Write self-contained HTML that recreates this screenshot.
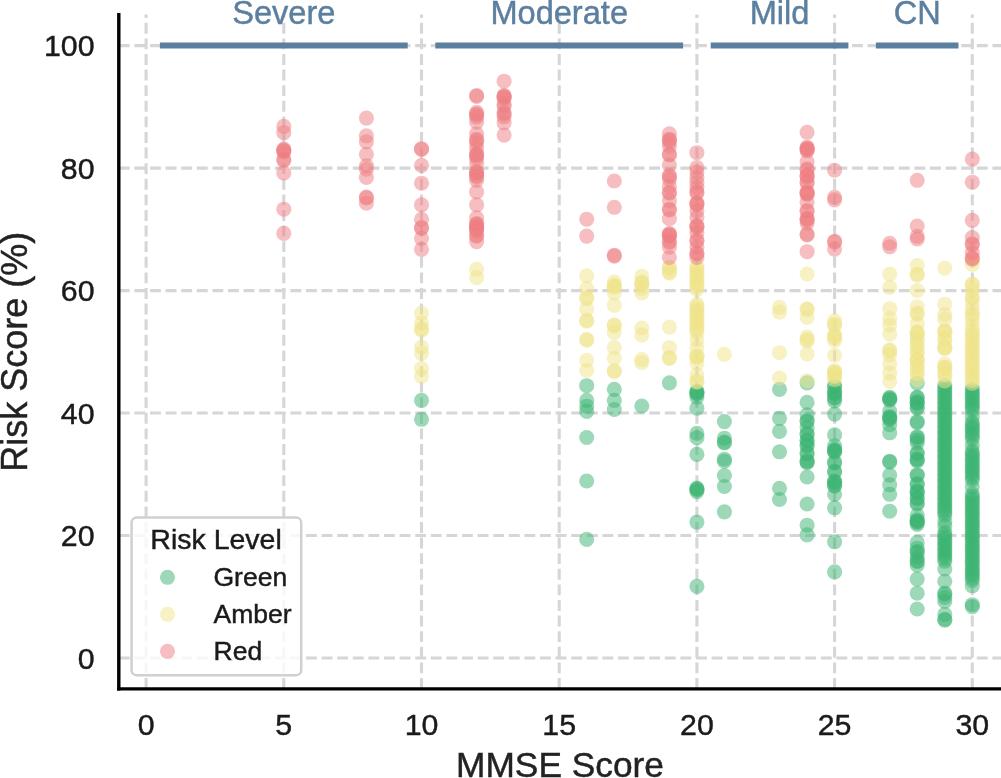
<!DOCTYPE html>
<html><head><meta charset="utf-8"><title>Risk Score vs MMSE Score</title>
<style>
html,body{margin:0;padding:0;background:#fff;}
body{width:1001px;height:778px;overflow:hidden;}
svg{display:block;}
text{font-family:"Liberation Sans",Arial,sans-serif;stroke-width:0.45px;paint-order:stroke;}
.tick,.leg{stroke:#1a1a1a;}.axl{stroke:#222;}.cat{stroke:#5b7f9f;}
.tick{font-size:30.3px;fill:#1a1a1a;}
.cat{font-size:32.6px;fill:#5b7f9f;}
.axl{font-size:36px;fill:#222;}
.leg{font-size:26.5px;fill:#1a1a1a;}
.grid line{stroke:#d6d6d6;stroke-width:3.1;stroke-dasharray:10.9 4.7;}
</style></head><body>
<svg width="1001" height="778" viewBox="0 0 1001 778">
<rect width="1001" height="778" fill="#fff"/>

<g class="grid">
<line x1="146.1" y1="688.9" x2="146.1" y2="14.6"/>
<line x1="283.8" y1="688.9" x2="283.8" y2="14.6"/>
<line x1="421.5" y1="688.9" x2="421.5" y2="14.6"/>
<line x1="559.2" y1="688.9" x2="559.2" y2="14.6"/>
<line x1="696.9" y1="688.9" x2="696.9" y2="14.6"/>
<line x1="834.6" y1="688.9" x2="834.6" y2="14.6"/>
<line x1="972.3" y1="688.9" x2="972.3" y2="14.6"/>
<line x1="118.8" y1="658.0" x2="1001" y2="658.0"/>
<line x1="118.8" y1="535.5" x2="1001" y2="535.5"/>
<line x1="118.8" y1="413.0" x2="1001" y2="413.0"/>
<line x1="118.8" y1="290.6" x2="1001" y2="290.6"/>
<line x1="118.8" y1="168.1" x2="1001" y2="168.1"/>
<line x1="118.8" y1="45.6" x2="1001" y2="45.6"/>
</g>
<line x1="159.9" y1="45.5" x2="407.7" y2="45.5" stroke="#5b7f9f" stroke-width="6"/>
<text class="cat" x="283.8" y="23.5" text-anchor="middle">Severe</text>
<line x1="435.3" y1="45.5" x2="683.1" y2="45.5" stroke="#5b7f9f" stroke-width="6"/>
<text class="cat" x="559.2" y="23.5" text-anchor="middle">Moderate</text>
<line x1="710.7" y1="45.5" x2="848.4" y2="45.5" stroke="#5b7f9f" stroke-width="6"/>
<text class="cat" x="779.5" y="23.5" text-anchor="middle">Mild</text>
<line x1="875.9" y1="45.5" x2="958.5" y2="45.5" stroke="#5b7f9f" stroke-width="6"/>
<text class="cat" x="917.2" y="23.5" text-anchor="middle">CN</text>
<g fill="#3cb371" fill-opacity="0.5">
<circle cx="421.5" cy="400.3" r="7.55"/>
<circle cx="421.5" cy="419.3" r="7.55"/>
<circle cx="586.7" cy="385.7" r="7.55"/>
<circle cx="586.7" cy="400.4" r="7.55"/>
<circle cx="586.7" cy="406.2" r="7.55"/>
<circle cx="586.7" cy="411.4" r="7.55"/>
<circle cx="586.7" cy="437.5" r="7.55"/>
<circle cx="586.7" cy="481.0" r="7.55"/>
<circle cx="586.7" cy="539.4" r="7.55"/>
<circle cx="614.3" cy="389.4" r="7.55"/>
<circle cx="614.3" cy="400.4" r="7.55"/>
<circle cx="614.3" cy="409.5" r="7.55"/>
<circle cx="641.8" cy="406.0" r="7.55"/>
<circle cx="669.4" cy="382.9" r="7.55"/>
<circle cx="696.9" cy="391.2" r="7.55"/>
<circle cx="696.9" cy="392.2" r="7.55"/>
<circle cx="696.9" cy="393.1" r="7.55"/>
<circle cx="696.9" cy="394.0" r="7.55"/>
<circle cx="696.9" cy="397.1" r="7.55"/>
<circle cx="696.9" cy="408.2" r="7.55"/>
<circle cx="696.9" cy="433.4" r="7.55"/>
<circle cx="696.9" cy="437.7" r="7.55"/>
<circle cx="696.9" cy="454.4" r="7.55"/>
<circle cx="696.9" cy="488.1" r="7.55"/>
<circle cx="696.9" cy="489.0" r="7.55"/>
<circle cx="696.9" cy="489.9" r="7.55"/>
<circle cx="696.9" cy="491.6" r="7.55"/>
<circle cx="696.9" cy="522.1" r="7.55"/>
<circle cx="696.9" cy="586.4" r="7.55"/>
<circle cx="724.4" cy="421.6" r="7.55"/>
<circle cx="724.4" cy="438.2" r="7.55"/>
<circle cx="724.4" cy="442.1" r="7.55"/>
<circle cx="724.4" cy="442.9" r="7.55"/>
<circle cx="724.4" cy="459.2" r="7.55"/>
<circle cx="724.4" cy="461.2" r="7.55"/>
<circle cx="724.4" cy="475.5" r="7.55"/>
<circle cx="724.4" cy="486.5" r="7.55"/>
<circle cx="724.4" cy="511.9" r="7.55"/>
<circle cx="779.5" cy="389.4" r="7.55"/>
<circle cx="779.5" cy="418.4" r="7.55"/>
<circle cx="779.5" cy="431.4" r="7.55"/>
<circle cx="779.5" cy="451.8" r="7.55"/>
<circle cx="779.5" cy="488.4" r="7.55"/>
<circle cx="779.5" cy="499.5" r="7.55"/>
<circle cx="807.1" cy="382.9" r="7.55"/>
<circle cx="807.1" cy="402.4" r="7.55"/>
<circle cx="807.1" cy="414.7" r="7.55"/>
<circle cx="807.1" cy="420.8" r="7.55"/>
<circle cx="807.1" cy="421.6" r="7.55"/>
<circle cx="807.1" cy="427.7" r="7.55"/>
<circle cx="807.1" cy="433.8" r="7.55"/>
<circle cx="807.1" cy="434.6" r="7.55"/>
<circle cx="807.1" cy="440.2" r="7.55"/>
<circle cx="807.1" cy="441.1" r="7.55"/>
<circle cx="807.1" cy="445.1" r="7.55"/>
<circle cx="807.1" cy="445.9" r="7.55"/>
<circle cx="807.1" cy="453.1" r="7.55"/>
<circle cx="807.1" cy="453.9" r="7.55"/>
<circle cx="807.1" cy="460.9" r="7.55"/>
<circle cx="807.1" cy="461.8" r="7.55"/>
<circle cx="807.1" cy="462.7" r="7.55"/>
<circle cx="807.1" cy="477.0" r="7.55"/>
<circle cx="807.1" cy="504.0" r="7.55"/>
<circle cx="807.1" cy="525.2" r="7.55"/>
<circle cx="807.1" cy="534.9" r="7.55"/>
<circle cx="834.6" cy="385.8" r="7.55"/>
<circle cx="834.6" cy="386.6" r="7.55"/>
<circle cx="834.6" cy="391.8" r="7.55"/>
<circle cx="834.6" cy="392.7" r="7.55"/>
<circle cx="834.6" cy="393.6" r="7.55"/>
<circle cx="834.6" cy="397.4" r="7.55"/>
<circle cx="834.6" cy="398.3" r="7.55"/>
<circle cx="834.6" cy="401.1" r="7.55"/>
<circle cx="834.6" cy="414.1" r="7.55"/>
<circle cx="834.6" cy="434.9" r="7.55"/>
<circle cx="834.6" cy="445.9" r="7.55"/>
<circle cx="834.6" cy="449.5" r="7.55"/>
<circle cx="834.6" cy="450.4" r="7.55"/>
<circle cx="834.6" cy="451.3" r="7.55"/>
<circle cx="834.6" cy="452.2" r="7.55"/>
<circle cx="834.6" cy="462.1" r="7.55"/>
<circle cx="834.6" cy="462.9" r="7.55"/>
<circle cx="834.6" cy="471.2" r="7.55"/>
<circle cx="834.6" cy="472.1" r="7.55"/>
<circle cx="834.6" cy="481.0" r="7.55"/>
<circle cx="834.6" cy="481.9" r="7.55"/>
<circle cx="834.6" cy="482.8" r="7.55"/>
<circle cx="834.6" cy="485.4" r="7.55"/>
<circle cx="834.6" cy="486.2" r="7.55"/>
<circle cx="834.6" cy="494.3" r="7.55"/>
<circle cx="834.6" cy="507.8" r="7.55"/>
<circle cx="834.6" cy="541.8" r="7.55"/>
<circle cx="834.6" cy="571.9" r="7.55"/>
<circle cx="889.7" cy="397.4" r="7.55"/>
<circle cx="889.7" cy="398.4" r="7.55"/>
<circle cx="889.7" cy="399.2" r="7.55"/>
<circle cx="889.7" cy="400.2" r="7.55"/>
<circle cx="889.7" cy="411.1" r="7.55"/>
<circle cx="889.7" cy="416.6" r="7.55"/>
<circle cx="889.7" cy="417.6" r="7.55"/>
<circle cx="889.7" cy="418.4" r="7.55"/>
<circle cx="889.7" cy="419.4" r="7.55"/>
<circle cx="889.7" cy="424.7" r="7.55"/>
<circle cx="889.7" cy="432.8" r="7.55"/>
<circle cx="889.7" cy="461.2" r="7.55"/>
<circle cx="889.7" cy="462.1" r="7.55"/>
<circle cx="889.7" cy="475.1" r="7.55"/>
<circle cx="889.7" cy="484.8" r="7.55"/>
<circle cx="889.7" cy="494.3" r="7.55"/>
<circle cx="889.7" cy="511.2" r="7.55"/>
<circle cx="917.2" cy="383.2" r="7.55"/>
<circle cx="917.2" cy="397.1" r="7.55"/>
<circle cx="917.2" cy="397.9" r="7.55"/>
<circle cx="917.2" cy="401.8" r="7.55"/>
<circle cx="917.2" cy="402.7" r="7.55"/>
<circle cx="917.2" cy="403.6" r="7.55"/>
<circle cx="917.2" cy="407.4" r="7.55"/>
<circle cx="917.2" cy="408.3" r="7.55"/>
<circle cx="917.2" cy="421.7" r="7.55"/>
<circle cx="917.2" cy="422.6" r="7.55"/>
<circle cx="917.2" cy="436.7" r="7.55"/>
<circle cx="917.2" cy="437.6" r="7.55"/>
<circle cx="917.2" cy="442.9" r="7.55"/>
<circle cx="917.2" cy="440.0" r="7.55"/>
<circle cx="917.2" cy="452.8" r="7.55"/>
<circle cx="917.2" cy="453.6" r="7.55"/>
<circle cx="917.2" cy="459.1" r="7.55"/>
<circle cx="917.2" cy="460.0" r="7.55"/>
<circle cx="917.2" cy="460.9" r="7.55"/>
<circle cx="917.2" cy="474.7" r="7.55"/>
<circle cx="917.2" cy="475.6" r="7.55"/>
<circle cx="917.2" cy="483.8" r="7.55"/>
<circle cx="917.2" cy="484.6" r="7.55"/>
<circle cx="917.2" cy="491.0" r="7.55"/>
<circle cx="917.2" cy="491.9" r="7.55"/>
<circle cx="917.2" cy="492.8" r="7.55"/>
<circle cx="917.2" cy="497.9" r="7.55"/>
<circle cx="917.2" cy="498.8" r="7.55"/>
<circle cx="917.2" cy="503.2" r="7.55"/>
<circle cx="917.2" cy="504.1" r="7.55"/>
<circle cx="917.2" cy="515.3" r="7.55"/>
<circle cx="917.2" cy="519.9" r="7.55"/>
<circle cx="917.2" cy="520.8" r="7.55"/>
<circle cx="917.2" cy="521.7" r="7.55"/>
<circle cx="917.2" cy="522.6" r="7.55"/>
<circle cx="917.2" cy="524.4" r="7.55"/>
<circle cx="917.2" cy="542.4" r="7.55"/>
<circle cx="917.2" cy="548.2" r="7.55"/>
<circle cx="917.2" cy="551.6" r="7.55"/>
<circle cx="917.2" cy="552.6" r="7.55"/>
<circle cx="917.2" cy="557.3" r="7.55"/>
<circle cx="917.2" cy="560.8" r="7.55"/>
<circle cx="917.2" cy="561.7" r="7.55"/>
<circle cx="917.2" cy="565.1" r="7.55"/>
<circle cx="917.2" cy="579.1" r="7.55"/>
<circle cx="917.2" cy="593.2" r="7.55"/>
<circle cx="917.2" cy="609.0" r="7.55"/>
<circle cx="944.8" cy="385.5" r="7.55"/>
<circle cx="944.8" cy="387.9" r="7.55"/>
<circle cx="944.8" cy="390.3" r="7.55"/>
<circle cx="944.8" cy="392.7" r="7.55"/>
<circle cx="944.8" cy="395.1" r="7.55"/>
<circle cx="944.8" cy="397.5" r="7.55"/>
<circle cx="944.8" cy="399.9" r="7.55"/>
<circle cx="944.8" cy="402.3" r="7.55"/>
<circle cx="944.8" cy="404.7" r="7.55"/>
<circle cx="944.8" cy="407.1" r="7.55"/>
<circle cx="944.8" cy="409.5" r="7.55"/>
<circle cx="944.8" cy="411.9" r="7.55"/>
<circle cx="944.8" cy="414.3" r="7.55"/>
<circle cx="944.8" cy="416.7" r="7.55"/>
<circle cx="944.8" cy="419.1" r="7.55"/>
<circle cx="944.8" cy="421.5" r="7.55"/>
<circle cx="944.8" cy="423.9" r="7.55"/>
<circle cx="944.8" cy="426.3" r="7.55"/>
<circle cx="944.8" cy="428.7" r="7.55"/>
<circle cx="944.8" cy="431.1" r="7.55"/>
<circle cx="944.8" cy="433.5" r="7.55"/>
<circle cx="944.8" cy="435.9" r="7.55"/>
<circle cx="944.8" cy="438.3" r="7.55"/>
<circle cx="944.8" cy="440.7" r="7.55"/>
<circle cx="944.8" cy="443.1" r="7.55"/>
<circle cx="944.8" cy="445.5" r="7.55"/>
<circle cx="944.8" cy="447.9" r="7.55"/>
<circle cx="944.8" cy="450.3" r="7.55"/>
<circle cx="944.8" cy="452.7" r="7.55"/>
<circle cx="944.8" cy="455.1" r="7.55"/>
<circle cx="944.8" cy="457.5" r="7.55"/>
<circle cx="944.8" cy="459.9" r="7.55"/>
<circle cx="944.8" cy="462.3" r="7.55"/>
<circle cx="944.8" cy="464.7" r="7.55"/>
<circle cx="944.8" cy="467.1" r="7.55"/>
<circle cx="944.8" cy="469.5" r="7.55"/>
<circle cx="944.8" cy="471.9" r="7.55"/>
<circle cx="944.8" cy="474.3" r="7.55"/>
<circle cx="944.8" cy="476.7" r="7.55"/>
<circle cx="944.8" cy="479.1" r="7.55"/>
<circle cx="944.8" cy="481.5" r="7.55"/>
<circle cx="944.8" cy="483.9" r="7.55"/>
<circle cx="944.8" cy="486.3" r="7.55"/>
<circle cx="944.8" cy="488.7" r="7.55"/>
<circle cx="944.8" cy="491.1" r="7.55"/>
<circle cx="944.8" cy="493.5" r="7.55"/>
<circle cx="944.8" cy="495.9" r="7.55"/>
<circle cx="944.8" cy="498.3" r="7.55"/>
<circle cx="944.8" cy="500.7" r="7.55"/>
<circle cx="944.8" cy="503.1" r="7.55"/>
<circle cx="944.8" cy="505.5" r="7.55"/>
<circle cx="944.8" cy="507.9" r="7.55"/>
<circle cx="944.8" cy="510.3" r="7.55"/>
<circle cx="944.8" cy="512.7" r="7.55"/>
<circle cx="944.8" cy="515.1" r="7.55"/>
<circle cx="944.8" cy="521.5" r="7.55"/>
<circle cx="944.8" cy="526.0" r="7.55"/>
<circle cx="944.8" cy="532.5" r="7.55"/>
<circle cx="944.8" cy="534.9" r="7.55"/>
<circle cx="944.8" cy="537.3" r="7.55"/>
<circle cx="944.8" cy="539.7" r="7.55"/>
<circle cx="944.8" cy="542.1" r="7.55"/>
<circle cx="944.8" cy="544.5" r="7.55"/>
<circle cx="944.8" cy="546.9" r="7.55"/>
<circle cx="944.8" cy="549.3" r="7.55"/>
<circle cx="944.8" cy="551.7" r="7.55"/>
<circle cx="944.8" cy="554.1" r="7.55"/>
<circle cx="944.8" cy="556.5" r="7.55"/>
<circle cx="944.8" cy="558.9" r="7.55"/>
<circle cx="944.8" cy="561.3" r="7.55"/>
<circle cx="944.8" cy="569.0" r="7.55"/>
<circle cx="944.8" cy="581.3" r="7.55"/>
<circle cx="944.8" cy="593.1" r="7.55"/>
<circle cx="944.8" cy="594.1" r="7.55"/>
<circle cx="944.8" cy="597.5" r="7.55"/>
<circle cx="944.8" cy="601.4" r="7.55"/>
<circle cx="944.8" cy="614.4" r="7.55"/>
<circle cx="944.8" cy="619.3" r="7.55"/>
<circle cx="944.8" cy="620.2" r="7.55"/>
<circle cx="972.3" cy="388.5" r="7.55"/>
<circle cx="972.3" cy="390.9" r="7.55"/>
<circle cx="972.3" cy="393.3" r="7.55"/>
<circle cx="972.3" cy="395.7" r="7.55"/>
<circle cx="972.3" cy="398.1" r="7.55"/>
<circle cx="972.3" cy="400.5" r="7.55"/>
<circle cx="972.3" cy="402.9" r="7.55"/>
<circle cx="972.3" cy="405.3" r="7.55"/>
<circle cx="972.3" cy="407.7" r="7.55"/>
<circle cx="972.3" cy="410.1" r="7.55"/>
<circle cx="972.3" cy="416.5" r="7.55"/>
<circle cx="972.3" cy="422.0" r="7.55"/>
<circle cx="972.3" cy="424.4" r="7.55"/>
<circle cx="972.3" cy="426.8" r="7.55"/>
<circle cx="972.3" cy="429.2" r="7.55"/>
<circle cx="972.3" cy="431.6" r="7.55"/>
<circle cx="972.3" cy="434.0" r="7.55"/>
<circle cx="972.3" cy="436.4" r="7.55"/>
<circle cx="972.3" cy="438.8" r="7.55"/>
<circle cx="972.3" cy="445.5" r="7.55"/>
<circle cx="972.3" cy="451.0" r="7.55"/>
<circle cx="972.3" cy="453.4" r="7.55"/>
<circle cx="972.3" cy="455.8" r="7.55"/>
<circle cx="972.3" cy="458.2" r="7.55"/>
<circle cx="972.3" cy="460.6" r="7.55"/>
<circle cx="972.3" cy="463.0" r="7.55"/>
<circle cx="972.3" cy="465.4" r="7.55"/>
<circle cx="972.3" cy="467.8" r="7.55"/>
<circle cx="972.3" cy="470.2" r="7.55"/>
<circle cx="972.3" cy="472.6" r="7.55"/>
<circle cx="972.3" cy="475.0" r="7.55"/>
<circle cx="972.3" cy="477.4" r="7.55"/>
<circle cx="972.3" cy="479.8" r="7.55"/>
<circle cx="972.3" cy="486.8" r="7.55"/>
<circle cx="972.3" cy="494.0" r="7.55"/>
<circle cx="972.3" cy="496.4" r="7.55"/>
<circle cx="972.3" cy="498.8" r="7.55"/>
<circle cx="972.3" cy="501.2" r="7.55"/>
<circle cx="972.3" cy="503.6" r="7.55"/>
<circle cx="972.3" cy="506.0" r="7.55"/>
<circle cx="972.3" cy="508.4" r="7.55"/>
<circle cx="972.3" cy="510.8" r="7.55"/>
<circle cx="972.3" cy="513.2" r="7.55"/>
<circle cx="972.3" cy="515.6" r="7.55"/>
<circle cx="972.3" cy="518.0" r="7.55"/>
<circle cx="972.3" cy="520.4" r="7.55"/>
<circle cx="972.3" cy="522.8" r="7.55"/>
<circle cx="972.3" cy="525.2" r="7.55"/>
<circle cx="972.3" cy="527.6" r="7.55"/>
<circle cx="972.3" cy="530.0" r="7.55"/>
<circle cx="972.3" cy="532.4" r="7.55"/>
<circle cx="972.3" cy="534.8" r="7.55"/>
<circle cx="972.3" cy="537.2" r="7.55"/>
<circle cx="972.3" cy="539.6" r="7.55"/>
<circle cx="972.3" cy="542.0" r="7.55"/>
<circle cx="972.3" cy="544.4" r="7.55"/>
<circle cx="972.3" cy="546.8" r="7.55"/>
<circle cx="972.3" cy="549.2" r="7.55"/>
<circle cx="972.3" cy="551.6" r="7.55"/>
<circle cx="972.3" cy="554.0" r="7.55"/>
<circle cx="972.3" cy="556.4" r="7.55"/>
<circle cx="972.3" cy="558.8" r="7.55"/>
<circle cx="972.3" cy="561.2" r="7.55"/>
<circle cx="972.3" cy="563.6" r="7.55"/>
<circle cx="972.3" cy="566.0" r="7.55"/>
<circle cx="972.3" cy="568.4" r="7.55"/>
<circle cx="972.3" cy="570.8" r="7.55"/>
<circle cx="972.3" cy="573.2" r="7.55"/>
<circle cx="972.3" cy="575.6" r="7.55"/>
<circle cx="972.3" cy="578.0" r="7.55"/>
<circle cx="972.3" cy="580.4" r="7.55"/>
<circle cx="972.3" cy="585.8" r="7.55"/>
<circle cx="972.3" cy="604.7" r="7.55"/>
<circle cx="972.3" cy="606.6" r="7.55"/>
</g>
<g fill="#f0e48a" fill-opacity="0.5">
<circle cx="421.5" cy="313.4" r="7.55"/>
<circle cx="421.5" cy="323.1" r="7.55"/>
<circle cx="421.5" cy="329.2" r="7.55"/>
<circle cx="421.5" cy="330.1" r="7.55"/>
<circle cx="421.5" cy="347.1" r="7.55"/>
<circle cx="421.5" cy="353.4" r="7.55"/>
<circle cx="421.5" cy="368.6" r="7.55"/>
<circle cx="421.5" cy="376.4" r="7.55"/>
<circle cx="476.6" cy="269.3" r="7.55"/>
<circle cx="476.6" cy="277.6" r="7.55"/>
<circle cx="586.7" cy="275.9" r="7.55"/>
<circle cx="586.7" cy="288.5" r="7.55"/>
<circle cx="586.7" cy="297.7" r="7.55"/>
<circle cx="586.7" cy="298.6" r="7.55"/>
<circle cx="586.7" cy="309.2" r="7.55"/>
<circle cx="586.7" cy="320.4" r="7.55"/>
<circle cx="586.7" cy="321.2" r="7.55"/>
<circle cx="586.7" cy="339.4" r="7.55"/>
<circle cx="586.7" cy="340.2" r="7.55"/>
<circle cx="586.7" cy="360.3" r="7.55"/>
<circle cx="586.7" cy="370.5" r="7.55"/>
<circle cx="614.3" cy="282.0" r="7.55"/>
<circle cx="614.3" cy="285.4" r="7.55"/>
<circle cx="614.3" cy="286.2" r="7.55"/>
<circle cx="614.3" cy="287.5" r="7.55"/>
<circle cx="614.3" cy="292.9" r="7.55"/>
<circle cx="614.3" cy="305.3" r="7.55"/>
<circle cx="614.3" cy="324.9" r="7.55"/>
<circle cx="614.3" cy="325.8" r="7.55"/>
<circle cx="614.3" cy="332.5" r="7.55"/>
<circle cx="614.3" cy="347.3" r="7.55"/>
<circle cx="614.3" cy="358.2" r="7.55"/>
<circle cx="614.3" cy="370.8" r="7.55"/>
<circle cx="614.3" cy="371.6" r="7.55"/>
<circle cx="641.8" cy="276.4" r="7.55"/>
<circle cx="641.8" cy="282.2" r="7.55"/>
<circle cx="641.8" cy="283.1" r="7.55"/>
<circle cx="641.8" cy="284.0" r="7.55"/>
<circle cx="641.8" cy="288.7" r="7.55"/>
<circle cx="641.8" cy="292.9" r="7.55"/>
<circle cx="641.8" cy="328.0" r="7.55"/>
<circle cx="641.8" cy="335.1" r="7.55"/>
<circle cx="641.8" cy="359.6" r="7.55"/>
<circle cx="641.8" cy="362.7" r="7.55"/>
<circle cx="669.4" cy="267.2" r="7.55"/>
<circle cx="669.4" cy="268.1" r="7.55"/>
<circle cx="669.4" cy="272.2" r="7.55"/>
<circle cx="669.4" cy="273.1" r="7.55"/>
<circle cx="669.4" cy="327.1" r="7.55"/>
<circle cx="669.4" cy="347.6" r="7.55"/>
<circle cx="669.4" cy="357.6" r="7.55"/>
<circle cx="669.4" cy="358.4" r="7.55"/>
<circle cx="696.9" cy="266.0" r="7.55"/>
<circle cx="696.9" cy="268.6" r="7.55"/>
<circle cx="696.9" cy="271.2" r="7.55"/>
<circle cx="696.9" cy="273.8" r="7.55"/>
<circle cx="696.9" cy="276.4" r="7.55"/>
<circle cx="696.9" cy="279.0" r="7.55"/>
<circle cx="696.9" cy="281.6" r="7.55"/>
<circle cx="696.9" cy="284.2" r="7.55"/>
<circle cx="696.9" cy="286.8" r="7.55"/>
<circle cx="696.9" cy="289.4" r="7.55"/>
<circle cx="696.9" cy="304.0" r="7.55"/>
<circle cx="696.9" cy="306.6" r="7.55"/>
<circle cx="696.9" cy="309.2" r="7.55"/>
<circle cx="696.9" cy="311.8" r="7.55"/>
<circle cx="696.9" cy="314.4" r="7.55"/>
<circle cx="696.9" cy="317.0" r="7.55"/>
<circle cx="696.9" cy="319.6" r="7.55"/>
<circle cx="696.9" cy="322.2" r="7.55"/>
<circle cx="696.9" cy="324.8" r="7.55"/>
<circle cx="696.9" cy="327.4" r="7.55"/>
<circle cx="696.9" cy="330.0" r="7.55"/>
<circle cx="696.9" cy="332.6" r="7.55"/>
<circle cx="696.9" cy="340.0" r="7.55"/>
<circle cx="696.9" cy="348.0" r="7.55"/>
<circle cx="696.9" cy="355.9" r="7.55"/>
<circle cx="696.9" cy="356.8" r="7.55"/>
<circle cx="696.9" cy="357.7" r="7.55"/>
<circle cx="696.9" cy="363.4" r="7.55"/>
<circle cx="696.9" cy="375.1" r="7.55"/>
<circle cx="696.9" cy="381.2" r="7.55"/>
<circle cx="696.9" cy="382.1" r="7.55"/>
<circle cx="724.4" cy="354.4" r="7.55"/>
<circle cx="779.5" cy="307.3" r="7.55"/>
<circle cx="779.5" cy="312.1" r="7.55"/>
<circle cx="779.5" cy="352.7" r="7.55"/>
<circle cx="779.5" cy="378.0" r="7.55"/>
<circle cx="807.1" cy="274.0" r="7.55"/>
<circle cx="807.1" cy="308.8" r="7.55"/>
<circle cx="807.1" cy="309.6" r="7.55"/>
<circle cx="807.1" cy="317.4" r="7.55"/>
<circle cx="807.1" cy="337.1" r="7.55"/>
<circle cx="807.1" cy="339.9" r="7.55"/>
<circle cx="807.1" cy="340.8" r="7.55"/>
<circle cx="807.1" cy="354.0" r="7.55"/>
<circle cx="807.1" cy="380.7" r="7.55"/>
<circle cx="834.6" cy="320.9" r="7.55"/>
<circle cx="834.6" cy="324.4" r="7.55"/>
<circle cx="834.6" cy="325.2" r="7.55"/>
<circle cx="834.6" cy="334.5" r="7.55"/>
<circle cx="834.6" cy="336.7" r="7.55"/>
<circle cx="834.6" cy="337.6" r="7.55"/>
<circle cx="834.6" cy="340.4" r="7.55"/>
<circle cx="834.6" cy="355.3" r="7.55"/>
<circle cx="834.6" cy="370.9" r="7.55"/>
<circle cx="834.6" cy="371.8" r="7.55"/>
<circle cx="834.6" cy="372.7" r="7.55"/>
<circle cx="834.6" cy="375.4" r="7.55"/>
<circle cx="834.6" cy="376.3" r="7.55"/>
<circle cx="834.6" cy="379.7" r="7.55"/>
<circle cx="889.7" cy="274.1" r="7.55"/>
<circle cx="889.7" cy="287.5" r="7.55"/>
<circle cx="889.7" cy="308.7" r="7.55"/>
<circle cx="889.7" cy="318.6" r="7.55"/>
<circle cx="889.7" cy="325.1" r="7.55"/>
<circle cx="889.7" cy="334.2" r="7.55"/>
<circle cx="889.7" cy="349.9" r="7.55"/>
<circle cx="889.7" cy="350.8" r="7.55"/>
<circle cx="889.7" cy="354.9" r="7.55"/>
<circle cx="889.7" cy="364.0" r="7.55"/>
<circle cx="889.7" cy="373.1" r="7.55"/>
<circle cx="889.7" cy="381.4" r="7.55"/>
<circle cx="917.2" cy="265.6" r="7.55"/>
<circle cx="917.2" cy="274.2" r="7.55"/>
<circle cx="917.2" cy="275.1" r="7.55"/>
<circle cx="917.2" cy="290.5" r="7.55"/>
<circle cx="917.2" cy="306.8" r="7.55"/>
<circle cx="917.2" cy="313.4" r="7.55"/>
<circle cx="917.2" cy="314.2" r="7.55"/>
<circle cx="917.2" cy="323.8" r="7.55"/>
<circle cx="917.2" cy="332.0" r="7.55"/>
<circle cx="917.2" cy="332.9" r="7.55"/>
<circle cx="917.2" cy="333.8" r="7.55"/>
<circle cx="917.2" cy="338.9" r="7.55"/>
<circle cx="917.2" cy="339.8" r="7.55"/>
<circle cx="917.2" cy="345.4" r="7.55"/>
<circle cx="917.2" cy="346.2" r="7.55"/>
<circle cx="917.2" cy="351.9" r="7.55"/>
<circle cx="917.2" cy="352.8" r="7.55"/>
<circle cx="917.2" cy="359.2" r="7.55"/>
<circle cx="917.2" cy="360.1" r="7.55"/>
<circle cx="917.2" cy="361.0" r="7.55"/>
<circle cx="917.2" cy="366.2" r="7.55"/>
<circle cx="917.2" cy="367.1" r="7.55"/>
<circle cx="917.2" cy="372.7" r="7.55"/>
<circle cx="917.2" cy="373.6" r="7.55"/>
<circle cx="917.2" cy="379.6" r="7.55"/>
<circle cx="944.8" cy="268.2" r="7.55"/>
<circle cx="944.8" cy="304.2" r="7.55"/>
<circle cx="944.8" cy="314.7" r="7.55"/>
<circle cx="944.8" cy="319.2" r="7.55"/>
<circle cx="944.8" cy="330.7" r="7.55"/>
<circle cx="944.8" cy="331.6" r="7.55"/>
<circle cx="944.8" cy="332.5" r="7.55"/>
<circle cx="944.8" cy="338.9" r="7.55"/>
<circle cx="944.8" cy="339.8" r="7.55"/>
<circle cx="944.8" cy="346.9" r="7.55"/>
<circle cx="944.8" cy="347.8" r="7.55"/>
<circle cx="944.8" cy="348.7" r="7.55"/>
<circle cx="944.8" cy="364.0" r="7.55"/>
<circle cx="944.8" cy="367.0" r="7.55"/>
<circle cx="944.8" cy="367.9" r="7.55"/>
<circle cx="944.8" cy="368.8" r="7.55"/>
<circle cx="944.8" cy="373.9" r="7.55"/>
<circle cx="944.8" cy="374.8" r="7.55"/>
<circle cx="944.8" cy="380.9" r="7.55"/>
<circle cx="972.3" cy="259.8" r="7.55"/>
<circle cx="972.3" cy="264.4" r="7.55"/>
<circle cx="972.3" cy="284.1" r="7.55"/>
<circle cx="972.3" cy="284.9" r="7.55"/>
<circle cx="972.3" cy="290.3" r="7.55"/>
<circle cx="972.3" cy="297.1" r="7.55"/>
<circle cx="972.3" cy="297.9" r="7.55"/>
<circle cx="972.3" cy="303.0" r="7.55"/>
<circle cx="972.3" cy="309.0" r="7.55"/>
<circle cx="972.3" cy="314.1" r="7.55"/>
<circle cx="972.3" cy="314.9" r="7.55"/>
<circle cx="972.3" cy="320.0" r="7.55"/>
<circle cx="972.3" cy="325.5" r="7.55"/>
<circle cx="972.3" cy="330.0" r="7.55"/>
<circle cx="972.3" cy="332.8" r="7.55"/>
<circle cx="972.3" cy="335.6" r="7.55"/>
<circle cx="972.3" cy="338.4" r="7.55"/>
<circle cx="972.3" cy="341.2" r="7.55"/>
<circle cx="972.3" cy="344.0" r="7.55"/>
<circle cx="972.3" cy="346.8" r="7.55"/>
<circle cx="972.3" cy="349.6" r="7.55"/>
<circle cx="972.3" cy="352.4" r="7.55"/>
<circle cx="972.3" cy="355.2" r="7.55"/>
<circle cx="972.3" cy="358.0" r="7.55"/>
<circle cx="972.3" cy="360.8" r="7.55"/>
<circle cx="972.3" cy="363.6" r="7.55"/>
<circle cx="972.3" cy="366.4" r="7.55"/>
<circle cx="972.3" cy="369.2" r="7.55"/>
<circle cx="972.3" cy="372.0" r="7.55"/>
<circle cx="972.3" cy="374.8" r="7.55"/>
<circle cx="972.3" cy="377.6" r="7.55"/>
<circle cx="972.3" cy="380.4" r="7.55"/>
<circle cx="972.3" cy="383.2" r="7.55"/>
</g>
<g fill="#ee7e81" fill-opacity="0.5">
<circle cx="283.8" cy="126.3" r="7.55"/>
<circle cx="283.8" cy="132.7" r="7.55"/>
<circle cx="283.8" cy="149.1" r="7.55"/>
<circle cx="283.8" cy="150.0" r="7.55"/>
<circle cx="283.8" cy="150.8" r="7.55"/>
<circle cx="283.8" cy="151.8" r="7.55"/>
<circle cx="283.8" cy="159.6" r="7.55"/>
<circle cx="283.8" cy="160.4" r="7.55"/>
<circle cx="283.8" cy="172.9" r="7.55"/>
<circle cx="283.8" cy="209.2" r="7.55"/>
<circle cx="283.8" cy="233.4" r="7.55"/>
<circle cx="366.4" cy="118.1" r="7.55"/>
<circle cx="366.4" cy="135.8" r="7.55"/>
<circle cx="366.4" cy="141.8" r="7.55"/>
<circle cx="366.4" cy="154.3" r="7.55"/>
<circle cx="366.4" cy="165.8" r="7.55"/>
<circle cx="366.4" cy="169.2" r="7.55"/>
<circle cx="366.4" cy="177.5" r="7.55"/>
<circle cx="366.4" cy="197.1" r="7.55"/>
<circle cx="366.4" cy="197.9" r="7.55"/>
<circle cx="366.4" cy="203.2" r="7.55"/>
<circle cx="421.5" cy="148.7" r="7.55"/>
<circle cx="421.5" cy="149.5" r="7.55"/>
<circle cx="421.5" cy="165.4" r="7.55"/>
<circle cx="421.5" cy="183.2" r="7.55"/>
<circle cx="421.5" cy="204.9" r="7.55"/>
<circle cx="421.5" cy="219.4" r="7.55"/>
<circle cx="421.5" cy="227.6" r="7.55"/>
<circle cx="421.5" cy="228.4" r="7.55"/>
<circle cx="421.5" cy="238.4" r="7.55"/>
<circle cx="421.5" cy="249.4" r="7.55"/>
<circle cx="476.6" cy="95.5" r="7.55"/>
<circle cx="476.6" cy="96.4" r="7.55"/>
<circle cx="476.6" cy="112.4" r="7.55"/>
<circle cx="476.6" cy="114.0" r="7.55"/>
<circle cx="476.6" cy="114.9" r="7.55"/>
<circle cx="476.6" cy="117.2" r="7.55"/>
<circle cx="476.6" cy="122.1" r="7.55"/>
<circle cx="476.6" cy="133.8" r="7.55"/>
<circle cx="476.6" cy="139.4" r="7.55"/>
<circle cx="476.6" cy="140.2" r="7.55"/>
<circle cx="476.6" cy="143.0" r="7.55"/>
<circle cx="476.6" cy="148.0" r="7.55"/>
<circle cx="476.6" cy="153.9" r="7.55"/>
<circle cx="476.6" cy="154.8" r="7.55"/>
<circle cx="476.6" cy="155.7" r="7.55"/>
<circle cx="476.6" cy="158.5" r="7.55"/>
<circle cx="476.6" cy="163.4" r="7.55"/>
<circle cx="476.6" cy="171.6" r="7.55"/>
<circle cx="476.6" cy="172.5" r="7.55"/>
<circle cx="476.6" cy="173.4" r="7.55"/>
<circle cx="476.6" cy="176.0" r="7.55"/>
<circle cx="476.6" cy="176.8" r="7.55"/>
<circle cx="476.6" cy="180.3" r="7.55"/>
<circle cx="476.6" cy="191.9" r="7.55"/>
<circle cx="476.6" cy="204.9" r="7.55"/>
<circle cx="476.6" cy="217.9" r="7.55"/>
<circle cx="476.6" cy="223.6" r="7.55"/>
<circle cx="476.6" cy="224.5" r="7.55"/>
<circle cx="476.6" cy="225.4" r="7.55"/>
<circle cx="476.6" cy="227.6" r="7.55"/>
<circle cx="476.6" cy="228.5" r="7.55"/>
<circle cx="476.6" cy="229.4" r="7.55"/>
<circle cx="476.6" cy="231.0" r="7.55"/>
<circle cx="476.6" cy="235.4" r="7.55"/>
<circle cx="476.6" cy="236.2" r="7.55"/>
<circle cx="476.6" cy="241.6" r="7.55"/>
<circle cx="504.1" cy="81.2" r="7.55"/>
<circle cx="504.1" cy="95.3" r="7.55"/>
<circle cx="504.1" cy="96.2" r="7.55"/>
<circle cx="504.1" cy="97.1" r="7.55"/>
<circle cx="504.1" cy="98.5" r="7.55"/>
<circle cx="504.1" cy="104.0" r="7.55"/>
<circle cx="504.1" cy="106.6" r="7.55"/>
<circle cx="504.1" cy="112.8" r="7.55"/>
<circle cx="504.1" cy="113.8" r="7.55"/>
<circle cx="504.1" cy="116.9" r="7.55"/>
<circle cx="504.1" cy="122.8" r="7.55"/>
<circle cx="504.1" cy="135.1" r="7.55"/>
<circle cx="586.7" cy="219.2" r="7.55"/>
<circle cx="586.7" cy="236.1" r="7.55"/>
<circle cx="614.3" cy="181.0" r="7.55"/>
<circle cx="614.3" cy="207.3" r="7.55"/>
<circle cx="614.3" cy="255.2" r="7.55"/>
<circle cx="614.3" cy="256.1" r="7.55"/>
<circle cx="669.4" cy="133.8" r="7.55"/>
<circle cx="669.4" cy="139.2" r="7.55"/>
<circle cx="669.4" cy="140.1" r="7.55"/>
<circle cx="669.4" cy="141.8" r="7.55"/>
<circle cx="669.4" cy="146.2" r="7.55"/>
<circle cx="669.4" cy="154.2" r="7.55"/>
<circle cx="669.4" cy="155.0" r="7.55"/>
<circle cx="669.4" cy="165.0" r="7.55"/>
<circle cx="669.4" cy="175.6" r="7.55"/>
<circle cx="669.4" cy="176.4" r="7.55"/>
<circle cx="669.4" cy="179.3" r="7.55"/>
<circle cx="669.4" cy="186.4" r="7.55"/>
<circle cx="669.4" cy="192.4" r="7.55"/>
<circle cx="669.4" cy="193.2" r="7.55"/>
<circle cx="669.4" cy="200.9" r="7.55"/>
<circle cx="669.4" cy="209.2" r="7.55"/>
<circle cx="669.4" cy="210.0" r="7.55"/>
<circle cx="669.4" cy="218.7" r="7.55"/>
<circle cx="669.4" cy="233.5" r="7.55"/>
<circle cx="669.4" cy="234.4" r="7.55"/>
<circle cx="669.4" cy="235.2" r="7.55"/>
<circle cx="669.4" cy="236.2" r="7.55"/>
<circle cx="669.4" cy="241.5" r="7.55"/>
<circle cx="669.4" cy="242.3" r="7.55"/>
<circle cx="669.4" cy="247.1" r="7.55"/>
<circle cx="669.4" cy="257.5" r="7.55"/>
<circle cx="696.9" cy="152.7" r="7.55"/>
<circle cx="696.9" cy="167.6" r="7.55"/>
<circle cx="696.9" cy="172.1" r="7.55"/>
<circle cx="696.9" cy="177.3" r="7.55"/>
<circle cx="696.9" cy="182.5" r="7.55"/>
<circle cx="696.9" cy="187.7" r="7.55"/>
<circle cx="696.9" cy="192.1" r="7.55"/>
<circle cx="696.9" cy="192.9" r="7.55"/>
<circle cx="696.9" cy="202.9" r="7.55"/>
<circle cx="696.9" cy="203.8" r="7.55"/>
<circle cx="696.9" cy="204.7" r="7.55"/>
<circle cx="696.9" cy="211.1" r="7.55"/>
<circle cx="696.9" cy="217.3" r="7.55"/>
<circle cx="696.9" cy="225.5" r="7.55"/>
<circle cx="696.9" cy="226.4" r="7.55"/>
<circle cx="696.9" cy="227.3" r="7.55"/>
<circle cx="696.9" cy="232.9" r="7.55"/>
<circle cx="696.9" cy="240.2" r="7.55"/>
<circle cx="696.9" cy="241.0" r="7.55"/>
<circle cx="696.9" cy="247.1" r="7.55"/>
<circle cx="696.9" cy="253.2" r="7.55"/>
<circle cx="696.9" cy="254.0" r="7.55"/>
<circle cx="696.9" cy="257.5" r="7.55"/>
<circle cx="807.1" cy="132.3" r="7.55"/>
<circle cx="807.1" cy="147.2" r="7.55"/>
<circle cx="807.1" cy="148.1" r="7.55"/>
<circle cx="807.1" cy="149.0" r="7.55"/>
<circle cx="807.1" cy="149.9" r="7.55"/>
<circle cx="807.1" cy="150.8" r="7.55"/>
<circle cx="807.1" cy="161.8" r="7.55"/>
<circle cx="807.1" cy="169.1" r="7.55"/>
<circle cx="807.1" cy="169.9" r="7.55"/>
<circle cx="807.1" cy="175.1" r="7.55"/>
<circle cx="807.1" cy="176.0" r="7.55"/>
<circle cx="807.1" cy="176.9" r="7.55"/>
<circle cx="807.1" cy="182.1" r="7.55"/>
<circle cx="807.1" cy="182.9" r="7.55"/>
<circle cx="807.1" cy="191.8" r="7.55"/>
<circle cx="807.1" cy="192.8" r="7.55"/>
<circle cx="807.1" cy="193.6" r="7.55"/>
<circle cx="807.1" cy="194.5" r="7.55"/>
<circle cx="807.1" cy="202.2" r="7.55"/>
<circle cx="807.1" cy="210.5" r="7.55"/>
<circle cx="807.1" cy="211.3" r="7.55"/>
<circle cx="807.1" cy="218.3" r="7.55"/>
<circle cx="807.1" cy="219.2" r="7.55"/>
<circle cx="807.1" cy="220.1" r="7.55"/>
<circle cx="807.1" cy="223.1" r="7.55"/>
<circle cx="807.1" cy="234.1" r="7.55"/>
<circle cx="807.1" cy="234.9" r="7.55"/>
<circle cx="807.1" cy="251.7" r="7.55"/>
<circle cx="834.6" cy="170.2" r="7.55"/>
<circle cx="834.6" cy="197.3" r="7.55"/>
<circle cx="834.6" cy="199.9" r="7.55"/>
<circle cx="834.6" cy="241.2" r="7.55"/>
<circle cx="834.6" cy="242.1" r="7.55"/>
<circle cx="834.6" cy="249.1" r="7.55"/>
<circle cx="889.7" cy="243.3" r="7.55"/>
<circle cx="889.7" cy="246.8" r="7.55"/>
<circle cx="917.2" cy="180.3" r="7.55"/>
<circle cx="917.2" cy="226.0" r="7.55"/>
<circle cx="917.2" cy="236.4" r="7.55"/>
<circle cx="917.2" cy="239.0" r="7.55"/>
<circle cx="972.3" cy="159.1" r="7.55"/>
<circle cx="972.3" cy="182.2" r="7.55"/>
<circle cx="972.3" cy="220.3" r="7.55"/>
<circle cx="972.3" cy="237.5" r="7.55"/>
<circle cx="972.3" cy="243.8" r="7.55"/>
<circle cx="972.3" cy="244.6" r="7.55"/>
<circle cx="972.3" cy="252.7" r="7.55"/>
<circle cx="972.3" cy="258.1" r="7.55"/>
<circle cx="972.3" cy="258.9" r="7.55"/>
</g>
<line x1="118.8" y1="13" x2="118.8" y2="690.6" stroke="#000" stroke-width="3.4"/>
<line x1="117.1" y1="688.9" x2="1001" y2="688.9" stroke="#000" stroke-width="3.4"/>
<text class="tick" x="94.5" y="668.8" text-anchor="end">0</text>
<text class="tick" x="94.5" y="546.3" text-anchor="end">20</text>
<text class="tick" x="94.5" y="423.8" text-anchor="end">40</text>
<text class="tick" x="94.5" y="301.4" text-anchor="end">60</text>
<text class="tick" x="94.5" y="178.9" text-anchor="end">80</text>
<text class="tick" x="94.5" y="56.4" text-anchor="end">100</text>
<text class="tick" x="146.1" y="734.7" text-anchor="middle">0</text>
<text class="tick" x="283.8" y="734.7" text-anchor="middle">5</text>
<text class="tick" x="421.5" y="734.7" text-anchor="middle">10</text>
<text class="tick" x="559.2" y="734.7" text-anchor="middle">15</text>
<text class="tick" x="696.9" y="734.7" text-anchor="middle">20</text>
<text class="tick" x="834.6" y="734.7" text-anchor="middle">25</text>
<text class="tick" x="972.3" y="734.7" text-anchor="middle">30</text>
<text class="axl" style="font-size:35.3px" x="560" y="777.3" text-anchor="middle">MMSE Score</text>
<text class="axl" transform="translate(27,351.7) rotate(-90)" text-anchor="middle">Risk Score (%)</text>
<rect x="131.6" y="517.6" width="169.6" height="157.6" rx="5" ry="5" fill="#fff" fill-opacity="0.8" stroke="#d0d0d0" stroke-width="2.5"/>
<text class="leg" style="font-size:28.5px" x="150.3" y="548.5">Risk Level</text>
<circle cx="167.5" cy="577.3" r="7.55" fill="#3cb371" fill-opacity="0.5"/>
<text class="leg" x="213.5" y="586.0">Green</text>
<circle cx="167.5" cy="614.3" r="7.55" fill="#f0e48a" fill-opacity="0.5"/>
<text class="leg" x="213.5" y="623.0">Amber</text>
<circle cx="167.5" cy="651.3" r="7.55" fill="#ee7e81" fill-opacity="0.5"/>
<text class="leg" x="213.5" y="660.0">Red</text>
</svg></body></html>
